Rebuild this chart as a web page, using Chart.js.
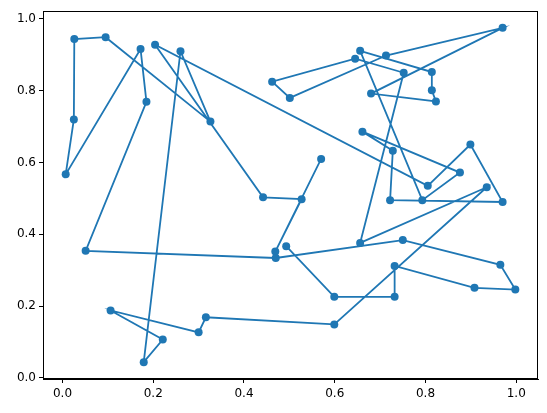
<!DOCTYPE html>
<html>
<head>
<meta charset="utf-8">
<script src="https://cdn.jsdelivr.net/npm/chart.js@4"></script>
<style>
  body { margin: 0; background: #fff; }
</style>
</head>
<body>
<canvas id="tour" width="547" height="413"></canvas>
<script>
// punti del percorso, nell'ordine in cui sono collegati
const xs = [0.570, 0.469, 0.527, 0.442, 0.204, 0.805, 0.899, 0.970, 0.722, 0.728,
            0.661, 0.876, 0.793, 0.656, 0.814, 0.814, 0.823, 0.680, 0.970, 0.713,
            0.501, 0.462, 0.645, 0.752, 0.656, 0.935, 0.599, 0.316, 0.300, 0.106,
            0.221, 0.179, 0.260, 0.326, 0.095, 0.026, 0.025, 0.007, 0.172, 0.185,
            0.051, 0.470, 0.750, 0.965, 0.998, 0.908, 0.732, 0.732, 0.599, 0.493];
const ys = [0.610, 0.352, 0.498, 0.503, 0.928, 0.535, 0.650, 0.490, 0.495, 0.633,
            0.686, 0.572, 0.495, 0.911, 0.852, 0.801, 0.770, 0.792, 0.975, 0.898,
            0.780, 0.825, 0.889, 0.850, 0.376, 0.531, 0.149, 0.169, 0.127, 0.188,
            0.107, 0.044, 0.910, 0.714, 0.949, 0.944, 0.720, 0.567, 0.916, 0.769,
            0.354, 0.334, 0.384, 0.315, 0.246, 0.251, 0.312, 0.226, 0.226, 0.367];

// etichette degli assi
const xTicks = [0.0, 0.2, 0.4, 0.6, 0.8, 1.0];
const yTicks = [0.0, 0.2, 0.4, 0.6, 0.8, 1.0];

const blu = '#1f77b4';
const font = { family: 'DejaVu Sans', size: 12 };

// cornice nera attorno all'area del grafico (come gli spine di matplotlib)
const cornice = {
    id: 'cornice',
    afterDatasetsDraw(chart) {
        const a = chart.chartArea, ctx = chart.ctx;
        ctx.save();
        ctx.strokeStyle = '#000';
        ctx.lineWidth = 1;
        ctx.strokeRect(a.left + 0.5, a.top + 0.5, a.right - a.left - 1, a.bottom - a.top - 1);
        ctx.restore();
    }
};

new Chart(document.getElementById('tour'), {
    type: 'scatter',
    data: {
        datasets: [{
            data: xs.map((x, i) => ({ x: x, y: ys[i] })),
            showLine: true,
            borderColor: blu,
            borderWidth: 1.8,
            backgroundColor: blu,
            pointRadius: 4,
            pointBorderWidth: 0,
            pointHoverRadius: 4
        }]
    },
    options: {
        responsive: false,
        animation: false,
        layout: { padding: { top: 11, right: 9, left: 0, bottom: 0 } },
        plugins: { legend: { display: false }, tooltip: { enabled: false } },
        scales: {
            x: {
                type: 'linear',
                min: -0.043,
                max: 1.048,
                afterBuildTicks: s => { s.ticks = xTicks.map(v => ({ value: v })); },
                afterFit: s => { s.height = 34; },
                grid: { drawOnChartArea: false, drawTicks: true, tickLength: 4, color: '#000' },
                border: { display: true, color: '#000', width: 1 },
                ticks: { color: '#000', font: font, padding: 4, maxRotation: 0,
                         callback: v => v.toFixed(1) }
            },
            y: {
                type: 'linear',
                min: -0.003,
                max: 1.022,
                afterBuildTicks: s => { s.ticks = yTicks.map(v => ({ value: v })); },
                afterFit: s => { s.width = 43; },
                grid: { drawOnChartArea: false, drawTicks: true, tickLength: 4, color: '#000' },
                border: { display: true, color: '#000', width: 1 },
                ticks: { color: '#000', font: font, padding: 3,
                         callback: v => v.toFixed(1) }
            }
        }
    },
    plugins: [cornice]
});
</script>
</body>
</html>
